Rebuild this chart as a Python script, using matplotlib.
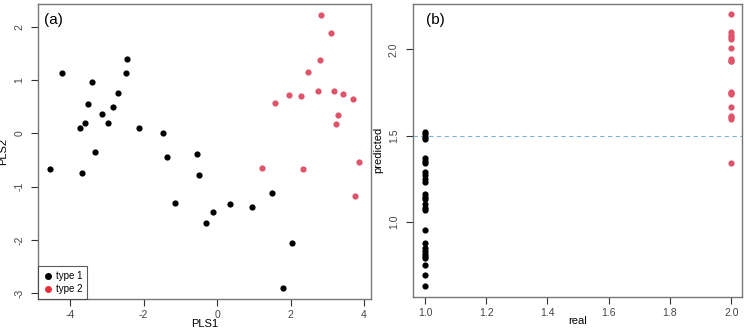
import numpy as np
import matplotlib.pyplot as plt
from matplotlib.lines import Line2D

# PLS scores, type 1
pls1_t1 = [-4.21, -2.45, -2.48, -3.39, -2.70, -3.51, -2.82, -3.14, -3.74, -3.60,
           -2.97, -2.13, -1.46, -3.31, -1.35, -0.54, -4.54, -3.67, -0.49, -1.15,
           0.36, 0.96, 1.49, -0.12, -0.29, 2.05, 1.79]
pls2_t1 = [1.125, 1.39, 1.14, 0.96, 0.75, 0.56, 0.49, 0.36, 0.11, 0.19,
           0.19, 0.10, 0.01, -0.35, -0.44, -0.39, -0.67, -0.74, -0.78, -1.31,
           -1.32, -1.38, -1.125, -1.48, -1.69, -2.06, -2.91]
# PLS scores, type 2
pls1_t2 = [2.82, 3.09, 2.80, 2.48, 1.58, 1.97, 2.29, 2.76, 3.19, 3.44,
           3.69, 3.30, 3.25, 1.22, 2.33, 3.85, 3.75]
pls2_t2 = [2.23, 1.89, 1.37, 1.16, 0.57, 0.72, 0.71, 0.80, 0.79, 0.74,
           0.64, 0.34, 0.17, -0.65, -0.66, -0.53, -1.17]

# predicted vs real
pred_t1 = [1.52, 1.51, 1.49, 1.48, 1.37, 1.35, 1.34, 1.29, 1.27, 1.25,
           1.23, 1.16, 1.145, 1.13, 1.10, 1.08, 1.07, 0.95, 0.875, 0.85,
           0.83, 0.815, 0.80, 0.79, 0.75, 0.69, 0.625]
pred_t2 = [2.205, 2.10, 2.085, 2.07, 2.06, 2.01, 1.945, 1.935, 1.93, 1.755,
           1.745, 1.74, 1.665, 1.615, 1.605, 1.595, 1.338]

red = '#DF536B'
frame = '#777777'

plt.rcParams['font.family'] = ['Liberation Sans', 'DejaVu Sans']
plt.rcParams['axes.unicode_minus'] = False

fig = plt.figure(figsize=(7.47, 3.31), dpi=100)
ax1 = fig.add_axes([0.0509, 0.0967, 0.4458, 0.8913])
ax2 = fig.add_axes([0.5525, 0.1036, 0.4412, 0.8844])


def style(ax):
    for s in ax.spines.values():
        s.set_color(frame)
        s.set_linewidth(1.0)
    ax.tick_params(length=5, width=0.8, color='#333333', labelsize=7.5,
                   labelcolor='#444444', pad=3)
    ax.tick_params(axis='y', pad=5)
    for lab in ax.get_yticklabels():
        lab.set_rotation(90)
        lab.set_va('center')


# (a)
ax1.scatter(pls1_t1, pls2_t1, s=20, color='black', linewidths=0, zorder=3)
ax1.scatter(pls1_t2, pls2_t2, s=20, color=red, linewidths=0, zorder=3)
ax1.set_xlim(-4.87, 4.19)
ax1.set_ylim(-3.11, 2.43)
ax1.set_xticks([-4, -2, 0, 2, 4])
ax1.set_yticks([-3, -2, -1, 0, 1, 2])
ax1.set_xlabel('PLS1', fontsize=8, labelpad=-1)
ax1.set_ylabel('PLS2', fontsize=8, labelpad=4)
ax1.text(0.017, 0.945, '(a)', transform=ax1.transAxes, fontsize=11, va='center')
handles = [Line2D([], [], marker='o', ls='', color='black', markersize=4),
           Line2D([], [], marker='o', ls='', color='#E8303A', markersize=4)]
leg = ax1.legend(handles, ['type 1', 'type 2'], loc='lower left', fontsize=7,
                 frameon=True, fancybox=False, borderaxespad=0,
                 handletextpad=0.3, borderpad=0.5, labelspacing=0.3,
                 handlelength=1.0)
leg.get_frame().set_edgecolor('#333333')
leg.get_frame().set_linewidth(0.8)
style(ax1)

# (b)
ax2.scatter(np.ones(len(pred_t1)), pred_t1, s=20, color='black', linewidths=0, zorder=3)
ax2.scatter(np.full(len(pred_t2), 2.0), pred_t2, s=20, color=red, linewidths=0, zorder=3)
ax2.axhline(1.5, color='#7FB3D5', ls='--', lw=0.8, dashes=(4, 3))
ax2.set_xlim(0.96, 2.036)
ax2.set_ylim(0.565, 2.263)
ax2.set_xticks([1.0, 1.2, 1.4, 1.6, 1.8, 2.0])
ax2.set_yticks([1.0, 1.5, 2.0])
ax2.set_xticklabels(['1.0', '1.2', '1.4', '1.6', '1.8', '2.0'])
ax2.set_yticklabels(['1.0', '1.5', '2.0'])
ax2.set_xlabel('real', fontsize=8, labelpad=-1)
ax2.set_ylabel('predicted', fontsize=8, labelpad=4)
ax2.text(0.04, 0.945, '(b)', transform=ax2.transAxes, fontsize=11, va='center')
style(ax2)

fig.savefig('out.png', dpi=100)
